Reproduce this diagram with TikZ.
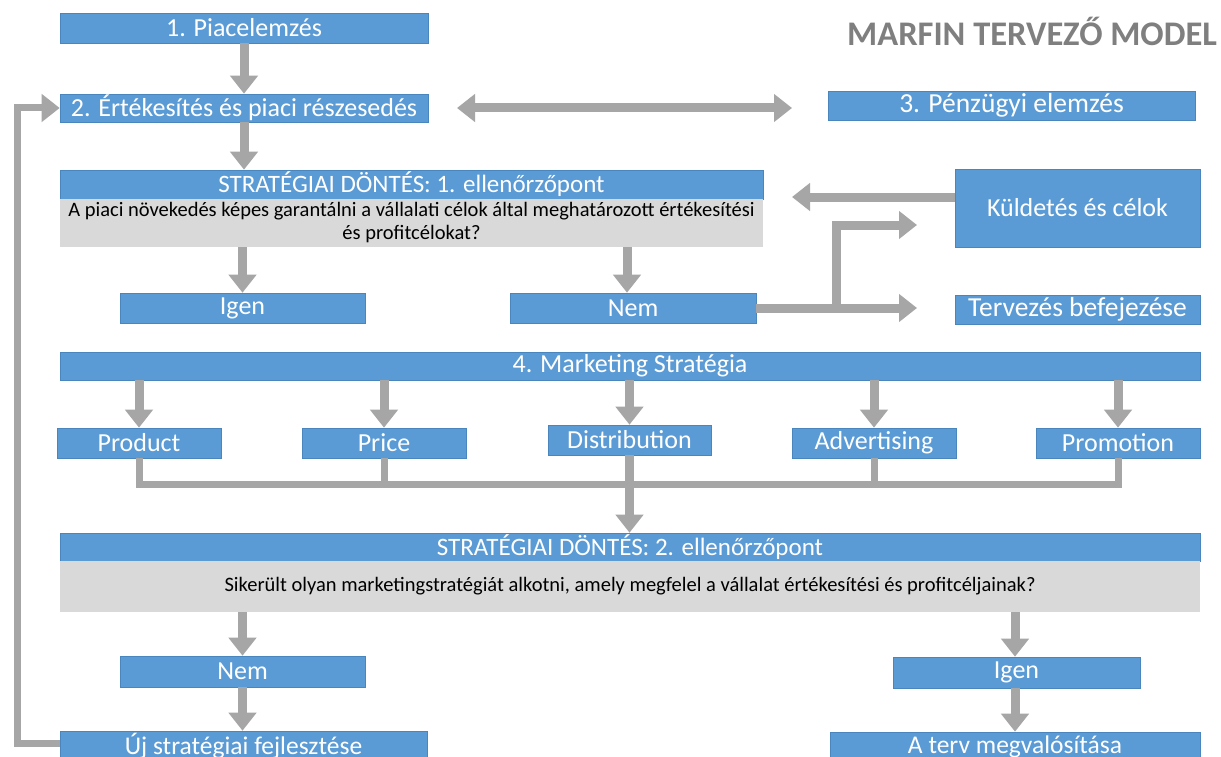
\documentclass[tikz,border=0pt]{standalone}
\usepackage{fontspec}
\setmainfont{Carlito}
\usetikzlibrary{arrows.meta}

\definecolor{boxblue}{HTML}{5B9BD5}
\definecolor{boxedge}{HTML}{4A86BE}
\definecolor{boxgray}{HTML}{D9D9D9}
\definecolor{arrowgray}{HTML}{A6A6A6}
\definecolor{titlegray}{HTML}{7F7F7F}

\tikzset{
  blk/.style={fill=boxblue, draw=boxedge, line width=0.6pt, text=white,
    font=\fontsize{26}{29}\selectfont, inner sep=0pt, anchor=center},
  hdr/.style={blk, font=\fontsize{25}{28}\selectfont},
  qbox/.style={fill=boxgray, text=black, inner sep=0pt, align=center,
    font=\fontsize{20.5}{23}\selectfont, anchor=center},
  conn/.style={draw=arrowgray, line width=9pt, line join=miter,
    -{Triangle[width=27pt,length=18pt]}},
  twoway/.style={draw=arrowgray, line width=9pt,
    {Triangle[width=27pt,length=18pt]}-{Triangle[width=27pt,length=18pt]}},
  bar/.style={draw=arrowgray, line width=7pt, line join=miter},
}

\begin{document}
\begin{tikzpicture}[x=1pt,y=-1pt]
\useasboundingbox[fill=white] (0,0) rectangle (1221,757);

% title
\node[anchor=west, text=titlegray, font=\fontsize{34.5}{38}\selectfont\bfseries, inner sep=0pt]
  (title) at (847,31) {MARFIN TERVEZŐ MODEL};

% upper part
\node[blk, minimum width=368pt, minimum height=30pt] (p1) at (244,28) {1. Piacelemzés};
\node[blk, minimum width=368pt, minimum height=28pt] (p2) at (244,108) {2. Értékesítés és piaci részesedés};
\node[blk, minimum width=367pt, minimum height=29pt, font=\fontsize{27.5}{30}\selectfont]
  (p3) at (1011.5,105.5) {3. Pénzügyi elemzés};

\node[hdr, minimum width=703pt, minimum height=29pt]
  (s1h) at (411.5,184.5) {STRATÉGIAI DÖNTÉS: 1. ellenőrzőpont};
\node[qbox, minimum width=703pt, minimum height=48pt] (s1q) at (411.5,223)
  {A piaci növekedés képes garantálni a vállalati célok által meghatározott értékesítési\\és profitcélokat?};

\node[blk, minimum width=245pt, minimum height=30pt] (igen1) at (242.5,308) {Igen};
\node[blk, minimum width=246pt, minimum height=30pt] (nem1) at (633,308) {Nem};
\node[blk, minimum width=245pt, minimum height=78pt] (kuld) at (1077.5,208) {Küldetés és célok};
\node[blk, minimum width=245pt, minimum height=29pt, font=\fontsize{27.5}{30}\selectfont]
  (terv) at (1077.5,309.5) {Tervezés befejezése};

% marketing strategy
\node[blk, minimum width=1140pt, minimum height=28pt] (mk) at (630,366) {4. Marketing Stratégia};
\node[blk, minimum width=164pt, minimum height=30pt] (prod) at (139,443) {Product};
\node[blk, minimum width=164pt, minimum height=30pt] (price) at (384,443) {Price};
\node[blk, minimum width=163pt, minimum height=30pt] (dist) at (629.5,440) {Distribution};
\node[blk, minimum width=164pt, minimum height=30pt] (adv) at (874,443) {Advertising};
\node[blk, minimum width=164pt, minimum height=30pt] (promo) at (1118,443) {Promotion};

% second checkpoint
\node[hdr, minimum width=1140pt, minimum height=28pt]
  (s2h) at (630,547) {STRATÉGIAI DÖNTÉS: 2. ellenőrzőpont};
\node[qbox, minimum width=1140pt, minimum height=51pt] (s2q) at (630,586.5)
  {Sikerült olyan marketingstratégiát alkotni, amely megfelel a vállalat értékesítési és profitcéljainak?};

\node[blk, minimum width=245pt, minimum height=31pt] (nem2) at (242.5,671.5) {Nem};
\node[blk, minimum width=247pt, minimum height=31pt] (igen2) at (1016.5,672.5) {Igen};
\node[blk, minimum width=367pt, minimum height=30pt, font=\fontsize{25.5}{28}\selectfont]
  (uj) at (243.5,746) {Új stratégiai fejlesztése};
\node[blk, minimum width=370pt, minimum height=30pt, font=\fontsize{25.5}{28}\selectfont]
  (terv2) at (1015,747) {A terv megvalósítása};

% free ends and bends
\coordinate (dl) at (457,108);
\coordinate (dr) at (792,108);
\coordinate (ktip) at (792,197);
\coordinate (jn) at (836,308);
\coordinate (kend) at (917,225);
\coordinate (tend) at (917,308);
\coordinate (busy) at (0,484);
\coordinate (loopx) at (17,0);

% connectors, top
\draw[conn] (p1.south) -- (p2.north);
\draw[conn] (p2.south) -- (s1h.north -| p2.south);
\draw[twoway] (dl) -- (dr);
\draw[conn] (kuld.west |- ktip) -- (ktip);
\draw[conn] (s1q.south -| igen1.north) -- (igen1.north);
\draw[conn] (s1q.south -| 627,0) -- (nem1.north -| 627,0);
\draw[conn] (nem1.east) -- (tend);
\draw[conn] (jn) |- (kend);

% marketing fan-out
\foreach \n in {prod,price,dist,adv,promo}
  \draw[conn] (mk.south -| \n.north) -- (\n.north);

% collecting bus
\draw[bar] (prod.south) -- (prod.south |- busy) -- (promo.south |- busy) -- (promo.south);
\draw[bar] (price.south) -- (price.south |- busy);
\draw[bar] (adv.south) -- (adv.south |- busy);
\draw[conn] (dist.south) -- (s2h.north -| dist.south);

% bottom
\draw[conn] (s2q.south -| nem2.north) -- (nem2.north);
\draw[conn] (nem2.south) -- (uj.north -| nem2.south);
\draw[conn] (s2q.south -| terv2.north) -- (igen2.north -| terv2.north);
\draw[conn] (igen2.south -| terv2.north) -- (terv2.north);

% feedback loop
\draw[conn, line width=7pt] (uj.west |- 0,743) -- (loopx |- 0,743) -- (loopx |- p2.west) -- (p2.west);
\end{tikzpicture}
\end{document}
